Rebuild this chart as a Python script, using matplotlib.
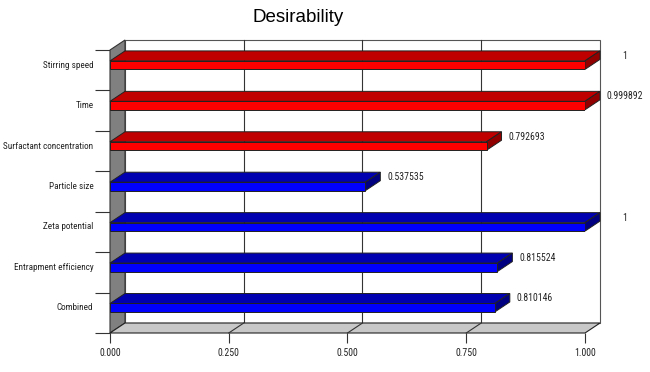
import numpy as np
import matplotlib
matplotlib.use("Agg")
import matplotlib.pyplot as plt
from matplotlib import font_manager
from matplotlib.patches import Polygon, Rectangle

# data
factors = ["Combined", "Entrapment efficiency", "Zeta potential", "Particle size",
           "Surfactant concentration", "Time", "Stirring speed"]
desirability = [0.810146, 0.815524, 1.0, 0.537535, 0.792693, 0.999892, 1.0]
is_factor = [False, False, False, False, True, True, True]
xticks = [0.0, 0.25, 0.5, 0.75, 1.0]
xticklabels = ["0.000", "0.250", "0.500", "0.750", "1.000"]


def narrow_font():
    # look for a condensed sans face, the labels in the original are narrow
    fonts = font_manager.fontManager.ttflist
    for want in ["Liberation Sans Narrow", "Arial Narrow", "DejaVu Sans Condensed",
                 "Roboto Condensed", "Open Sans Condensed"]:
        for f in fonts:
            if f.name == want and f.weight in (400, "normal", "regular") and f.style == "normal":
                return f.fname, 1.0
    for f in fonts:
        if f.name.startswith("DejaVu Sans") and f.stretch == "condensed" \
                and f.style == "normal" and f.weight in (400, "normal"):
            return f.fname, 1.0
    return None, 0.8


fpath, shrink = narrow_font()


def fp(size):
    if fpath:
        return font_manager.FontProperties(fname=fpath, size=size)
    return font_manager.FontProperties(family="DejaVu Sans", size=size * shrink)


fig = plt.figure(figsize=(6.5, 3.72), dpi=100)
# axes = front plane of the fake 3D box
ax = fig.add_axes([110 / 650, 39 / 372, 475 / 650, 283 / 372])
n = len(factors)
ax.set_xlim(0, 1)
ax.set_ylim(-0.5, n - 0.5)
for s in ax.spines.values():
    s.set_visible(False)

dx = 15 / 475   # depth offset in x (data units)
dy = 10 / 40.43  # depth offset in y

# back wall
ax.add_patch(Rectangle((dx, -0.5 + dy), 1, n, facecolor="white",
                       edgecolor="#555555", lw=0.8, clip_on=False, zorder=0))
for t in xticks[1:-1]:
    ax.plot([t + dx, t + dx], [-0.5 + dy, n - 0.5 + dy], color="#333333",
            lw=0.8, clip_on=False, zorder=1)

# left wall
ax.add_patch(Polygon([(0, -0.5), (dx, -0.5 + dy), (dx, n - 0.5 + dy), (0, n - 0.5)],
                     closed=True, facecolor="#808080", edgecolor="#333333",
                     lw=0.8, clip_on=False, zorder=2))
# floor
ax.add_patch(Polygon([(0, -0.5), (1, -0.5), (1 + dx, -0.5 + dy), (dx, -0.5 + dy)],
                     closed=True, facecolor="#c8c8c8", edgecolor="#222222",
                     lw=0.8, clip_on=False, zorder=2))
for t in xticks[1:-1]:
    ax.plot([t + dx, t], [-0.5 + dy, -0.5], color="#333333", lw=0.8,
            clip_on=False, zorder=3)

# bars
y0 = np.arange(n) + 0.02
h = 0.21
front = ["#ff0000" if f else "#0000ff" for f in is_factor]
top = ["#c00000" if f else "#0000b0" for f in is_factor]
side = ["#900000" if f else "#000080" for f in is_factor]

ax.barh(y0, desirability, height=h, align="edge", color=front,
        edgecolor="#222222", lw=0.7, zorder=5)
for i, v in enumerate(desirability):
    y1 = y0[i] + h
    ax.add_patch(Polygon([(0, y1), (v, y1), (v + dx, y1 + dy), (dx, y1 + dy)],
                         closed=True, facecolor=top[i], edgecolor="#222222",
                         lw=0.7, clip_on=False, zorder=4))
    ax.add_patch(Polygon([(v, y0[i]), (v, y1), (v + dx, y1 + dy), (v + dx, y0[i] + dy)],
                         closed=True, facecolor=side[i], edgecolor="#222222",
                         lw=0.7, clip_on=False, zorder=4))
    ax.text(v + dx + 25 / 475, y1 + dy / 2, f"{v:g}", ha="center", va="center",
            fontproperties=fp(7), color="#222222")

# ticks
ax.set_yticks(np.arange(n) + 0.15)
ax.set_yticklabels(factors, fontproperties=fp(6.6), color="#222222")
ax.tick_params(axis="y", which="major", length=0, pad=12)
ax.set_yticks(np.arange(n + 1) - 0.5, minor=True)
ax.tick_params(axis="y", which="minor", length=11, width=0.8, color="#333333")
ax.set_xticks(xticks)
ax.set_xticklabels(xticklabels, fontproperties=fp(7), color="#222222")
ax.tick_params(axis="x", length=7.5, width=0.8, color="#333333", pad=3)

fig.text(298 / 650, 1 - 18 / 372, "Desirability", ha="center", va="center",
         fontsize=13.5, family=["Liberation Sans", "DejaVu Sans"])

fig.savefig("out.png", dpi=100, facecolor="white")
